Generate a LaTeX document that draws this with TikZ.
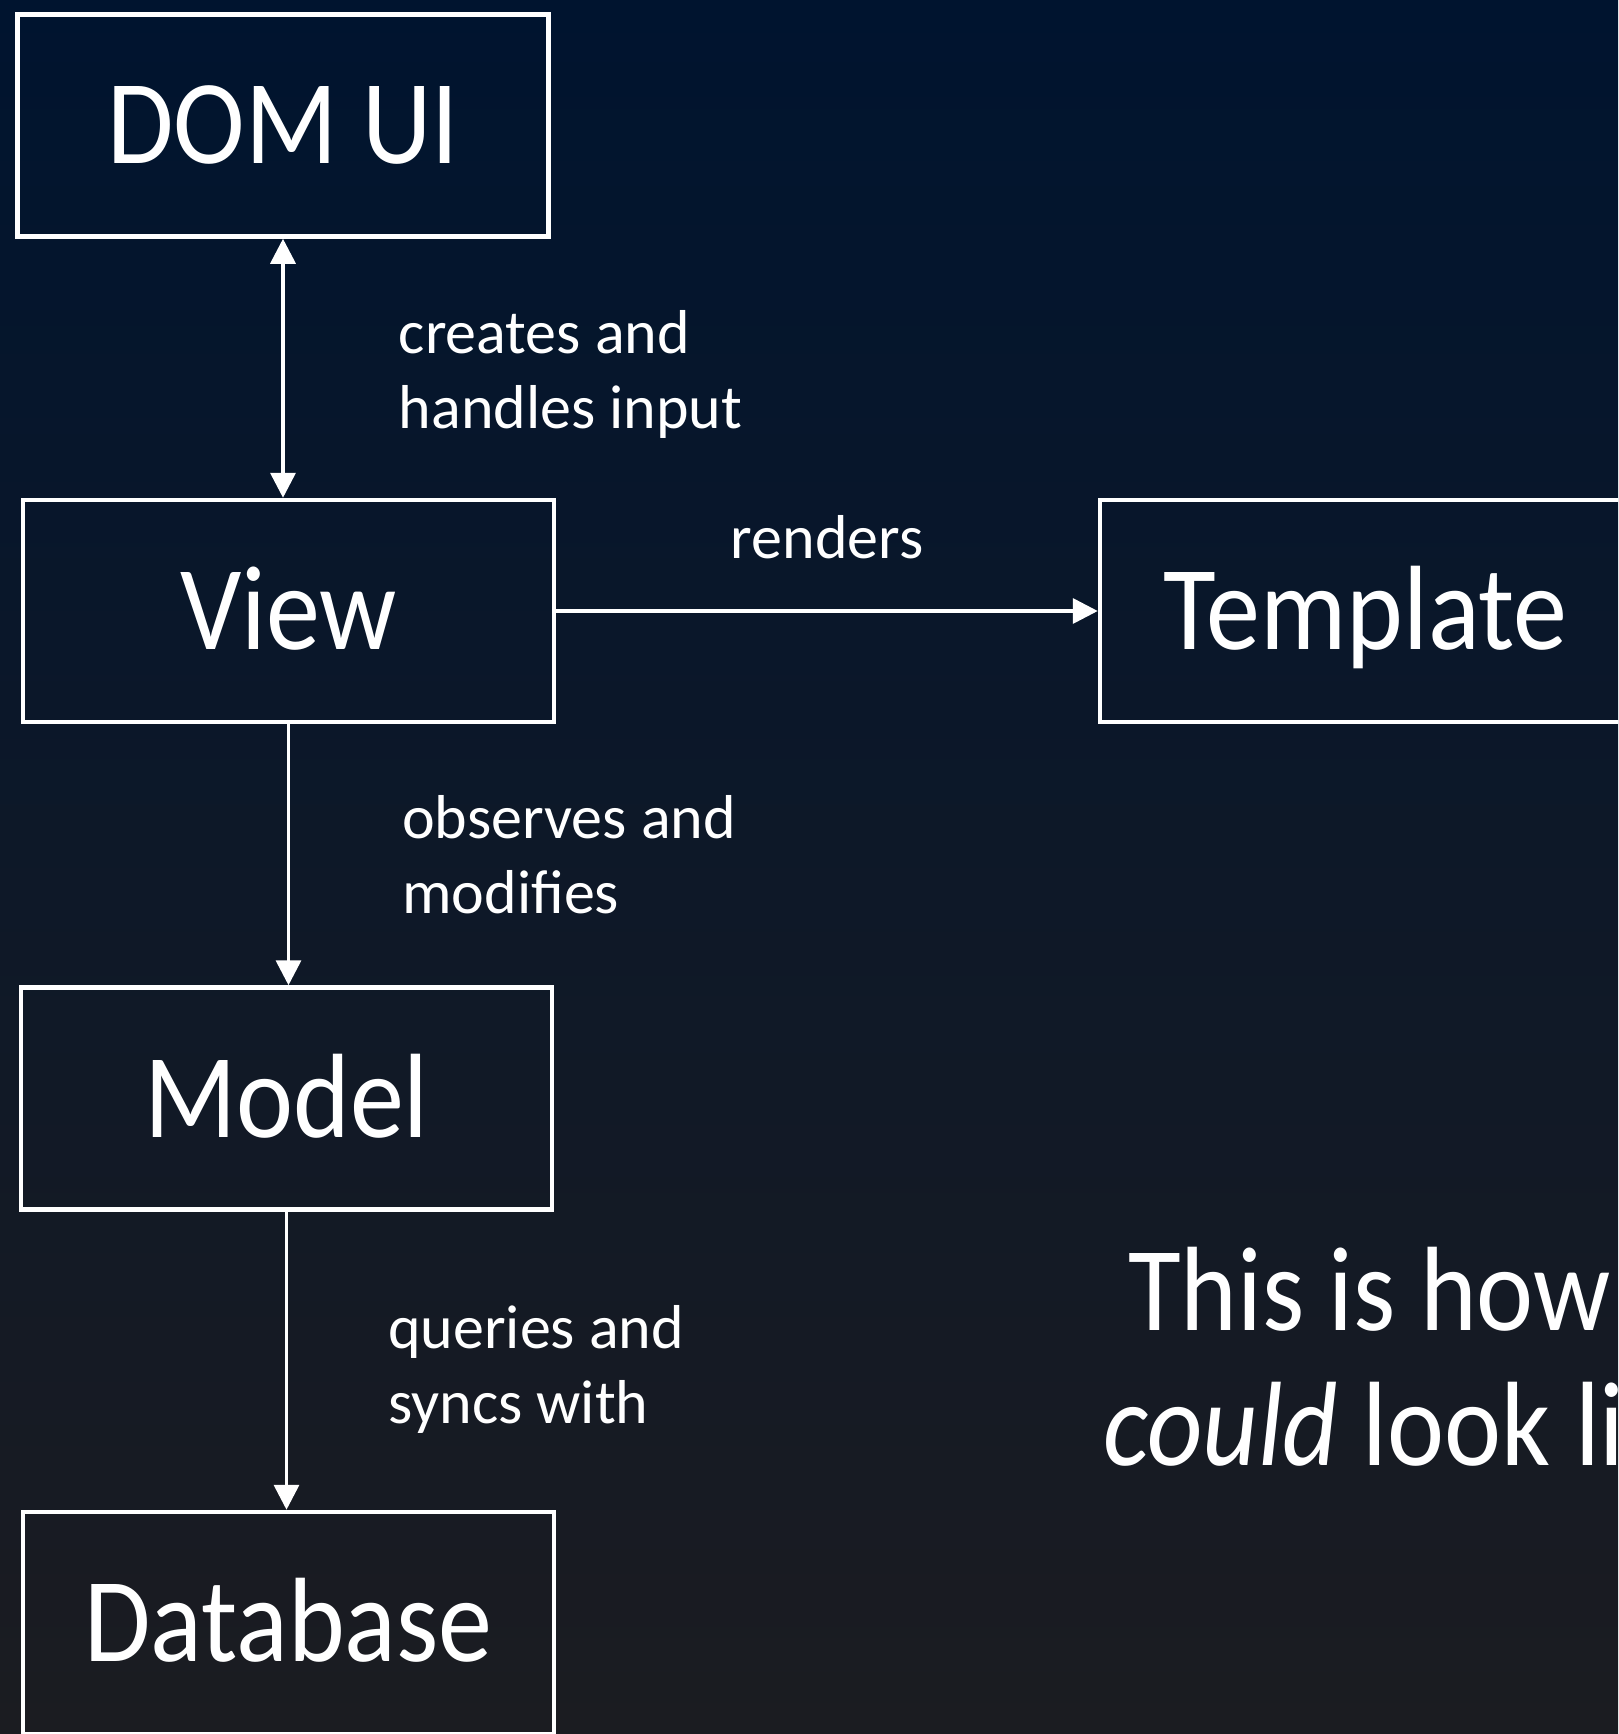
\documentclass[tikz,border=0pt]{standalone}
\usepackage{fontspec}
\setmainfont{Carlito}
\newfontfamily\boxfont[FakeStretch=0.9]{Carlito}
\usetikzlibrary{arrows.meta}
\definecolor{bgtop}{HTML}{00142F}
\definecolor{bgmid}{HTML}{0A1829}
\definecolor{bgbottom}{HTML}{1B1C21}

\begin{document}
\begin{tikzpicture}[x=1pt, y=-1pt, >={Triangle[width=25pt,length=25pt]},
    box/.style={draw=white, line width=4.5pt, minimum width=531pt, minimum height=222pt,
        inner sep=0pt, text=white, font=\boxfont\fontsize{120}{130}\selectfont,
        text height=77pt, text depth=0pt},
    link/.style={draw=white, line width=3.6pt},
    note/.style={text=white, font=\fontsize{62}{75}\selectfont, align=left, inner sep=0pt},
    bigtext/.style={text=white, font=\boxfont\fontsize{120}{134}\selectfont, inner sep=0pt}]
    % Background
    \useasboundingbox (0,0) rectangle (1618,1734);
    \clip (0,0) rectangle (1618,1734);
    \shade[top color=bgtop, middle color=bgmid, bottom color=bgbottom] (0,0) rectangle (1618,1734);

    % Boxes
    \node[box] (dom) at (283,125.5) {DOM UI};
    \node[box] (view) at (288.5,611) {View};
    \node[box] (template) at (1365.5,611) {Template};
    \node[box] (model) at (286.5,1098.5) {Model};
    \node[box] (db) at (288.5,1623) {Database};

    % Connections
    \draw[link, <->] (dom.south) -- (dom.south |- view.north)
        node[note, midway, anchor=west, xshift=114pt, yshift=-6pt] {creates and\\handles input};
    \draw[link, ->] (view.east) -- (template.west)
        node[note, midway, above=50pt] {renders};
    \draw[link, ->] (view.south) -- (view.south |- model.north)
        node[note, midway, anchor=west, xshift=112pt] {observes and\\modifies};
    \draw[link, ->] (model.south) -- (model.south |- db.north)
        node[note, midway, anchor=west, xshift=100pt, yshift=-9pt] {queries and\\syncs with};

    \node[bigtext, anchor=base west] (line1) at (1128,1330) {This is how};
    \node[bigtext, anchor=base west] (line2) at (1103,1465) {\textit{could} look like};
\end{tikzpicture}
\end{document}
